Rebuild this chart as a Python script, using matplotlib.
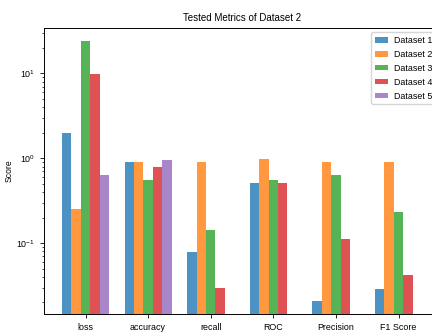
import numpy as np
import matplotlib
matplotlib.use("Agg")
import matplotlib.pyplot as plt

# 지표 이름 / 데이터셋별 점수
metrics = ["loss", "accuracy", "recall", "ROC", "Precision", "F1 Score"]
dataset_names = ["Dataset 1", "Dataset 2", "Dataset 3", "Dataset 4", "Dataset 5"]

dataset1 = [2.0, 0.90, 0.079, 0.518, 0.021, 0.029]
dataset2 = [0.256, 0.90, 0.914, 0.973, 0.90, 0.90]
dataset3 = [24.4, 0.556, 0.142, 0.556, 0.64, 0.23]
dataset4 = [9.9, 0.78, 0.0298, 0.515, 0.111, 0.042]
dataset5 = [0.64, 0.965, 0, 0, 0, 0]

colors = ["tab:blue", "tab:orange", "tab:green", "tab:red", "tab:purple"]

plt.rcParams["font.family"] = ["Liberation Sans", "DejaVu Sans"]

fig = plt.figure(figsize=(4.32, 3.32), dpi=100)
# 오른쪽이 잘린 원본처럼 축을 그림 밖까지 늘림
ax = fig.add_axes([0.1019, 0.0542, 0.9167, 0.8614])

x = np.arange(len(metrics))
width = 0.15
all_data = [dataset1, dataset2, dataset3, dataset4, dataset5]
for i, (vals, name, c) in enumerate(zip(all_data, dataset_names, colors)):
    ax.bar(x + (i - 2) * width, vals, width, label=name, color=c, alpha=0.8)

ax.set_yscale("log")
ax.set_xlim(-0.6625, 5.6625)
ax.set_ylim(10 ** -1.835, 10 ** 1.535)
ax.set_xticks(x)
ax.set_xticklabels(metrics)
ax.tick_params(labelsize=6.4, length=3, width=0.6)
ax.tick_params(which="minor", length=1.8, width=0.5)
ax.set_ylabel("Score", fontsize=6.2)
ax.yaxis.set_label_coords(-0.076, 0.5)
ax.set_title("Tested Metrics of Dataset 2", fontsize=7, pad=5)
for s in ax.spines.values():
    s.set_linewidth(0.7)
ax.legend(loc="upper right", fontsize=6.4, handlelength=1.5, handleheight=0.6,
          labelspacing=0.55, borderpad=0.4, handletextpad=0.6)

fig.savefig("out.png", dpi=100)
